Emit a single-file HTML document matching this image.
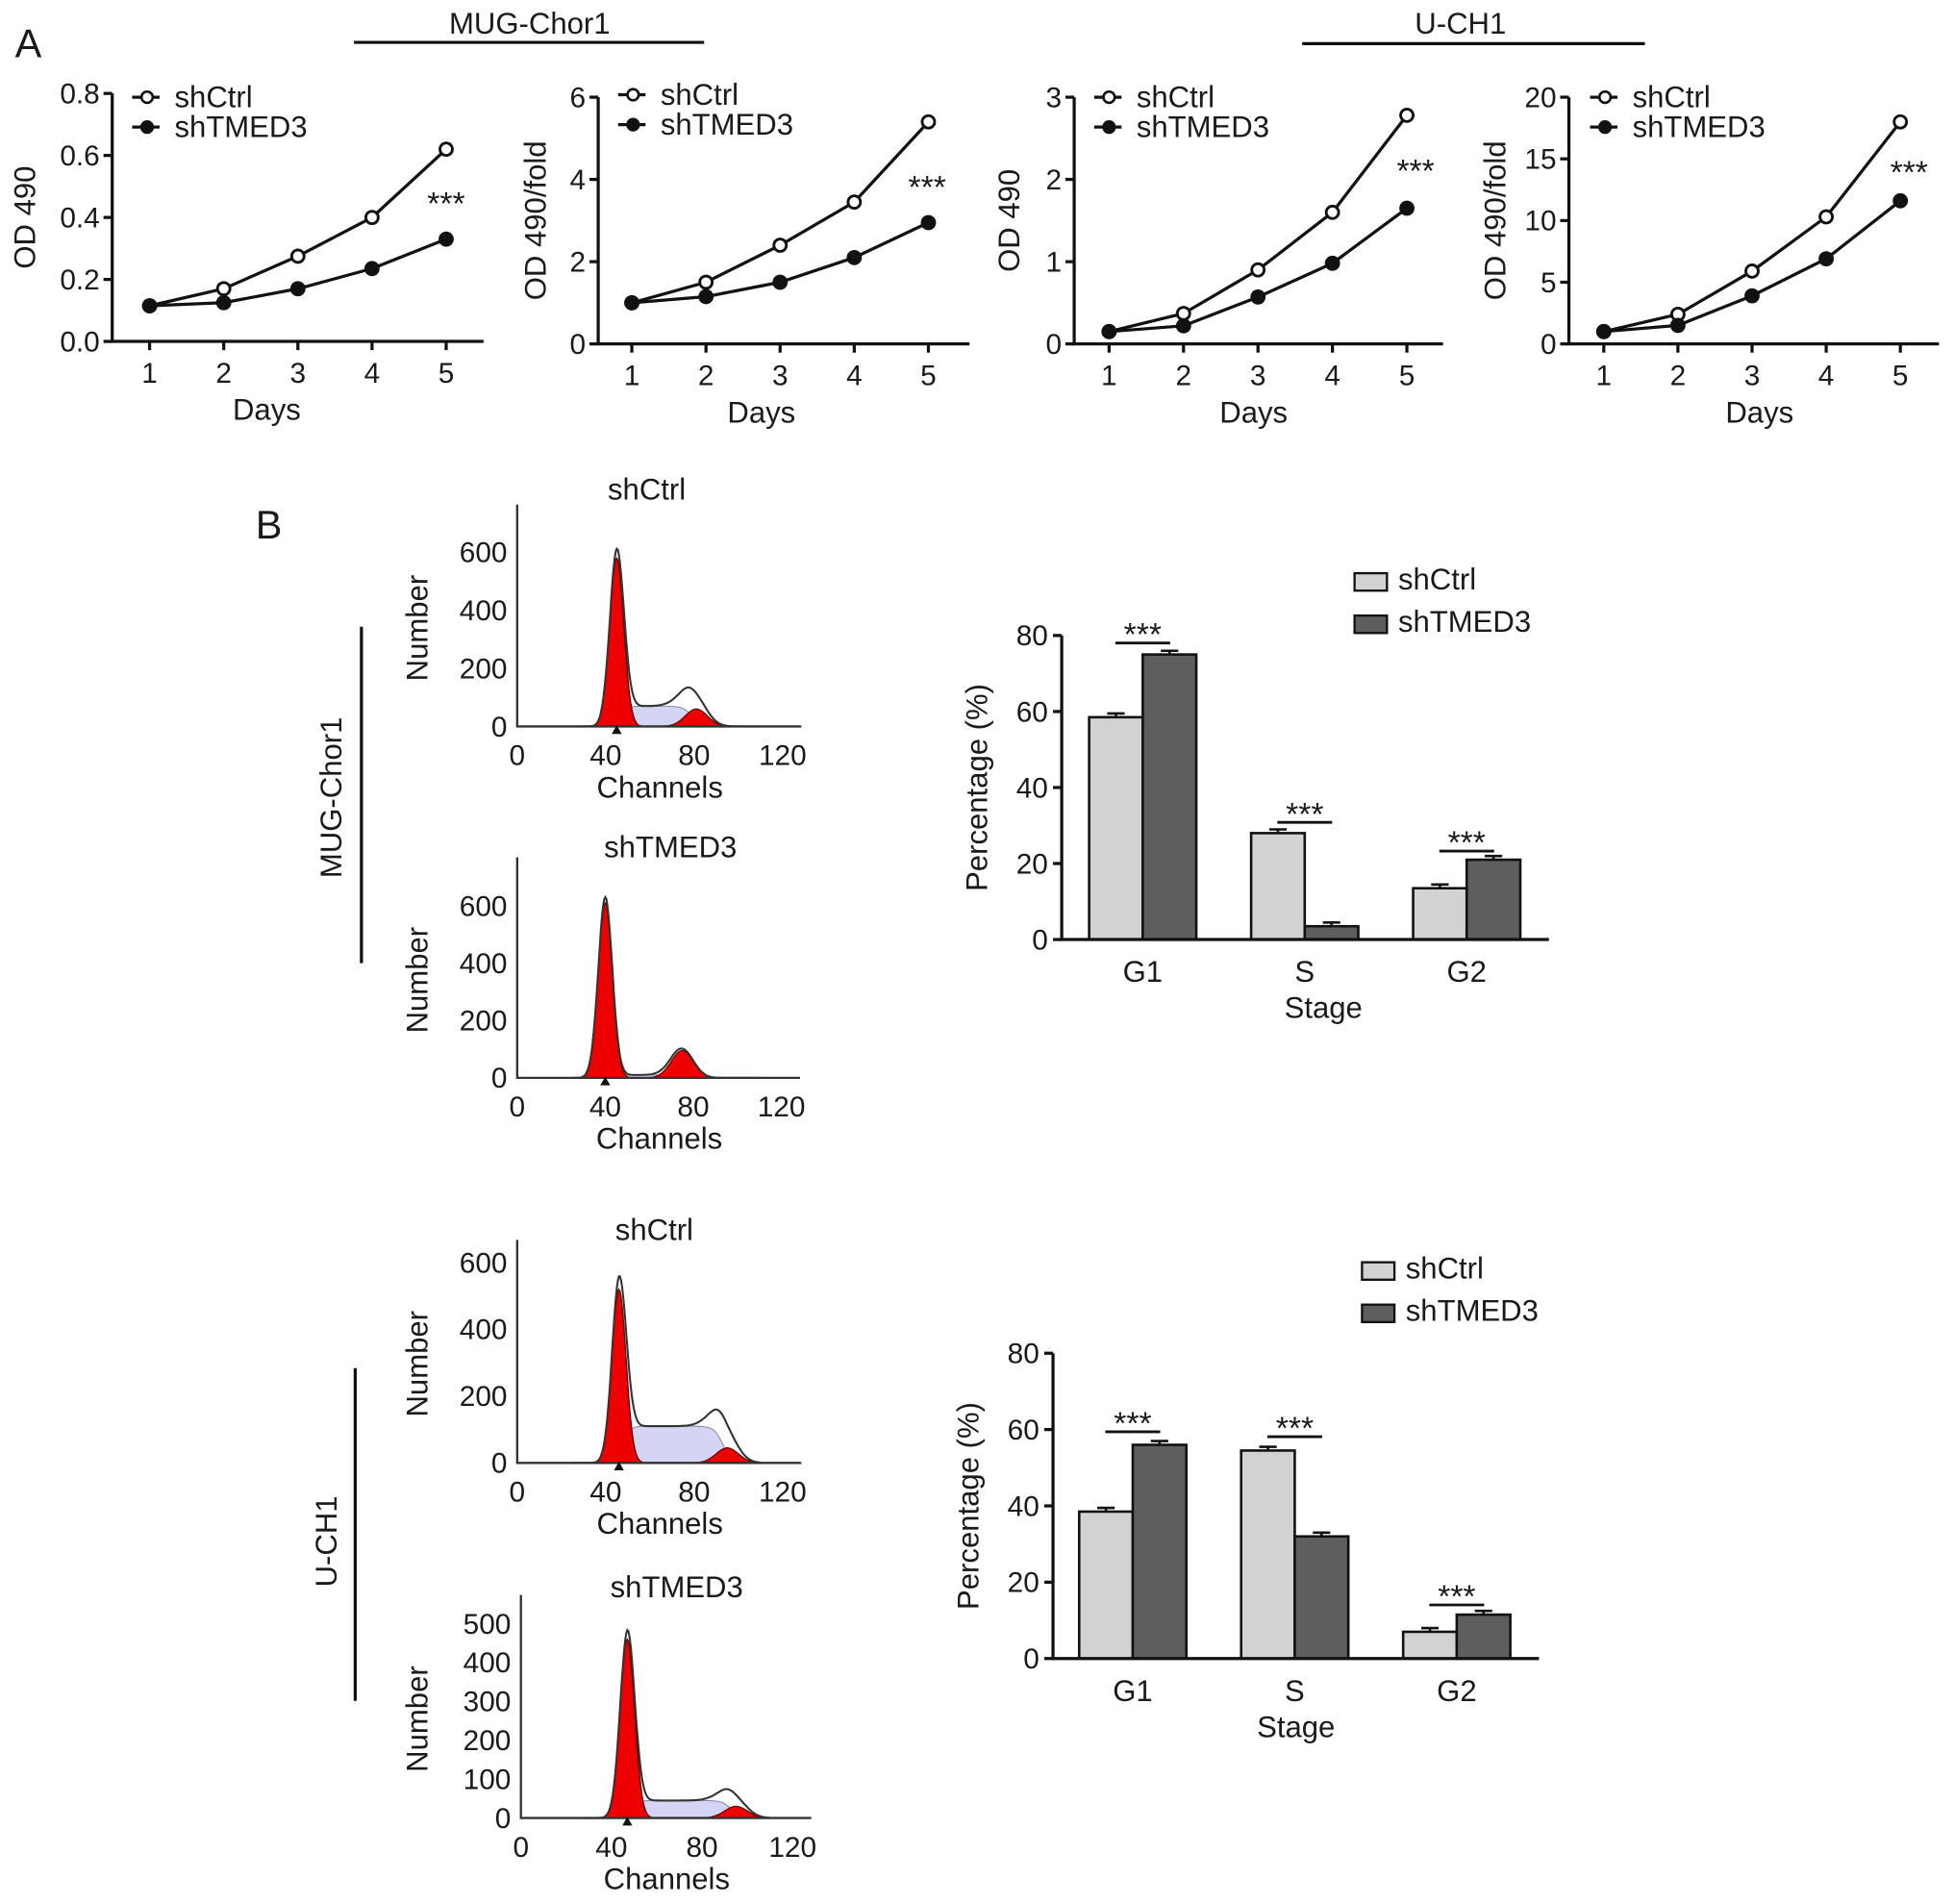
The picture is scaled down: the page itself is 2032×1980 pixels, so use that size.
<!DOCTYPE html>
<html><head><meta charset="utf-8"><style>
html,body{margin:0;padding:0;background:#fff}
svg{display:block}
text{font-family:"Liberation Sans",Arial,sans-serif;fill:#1a1a1a}
</style></head><body>
<svg id="fig" width="2032" height="1980" viewBox="0 0 1568 1528" xmlns="http://www.w3.org/2000/svg">
<text x="12" y="46" font-size="32">A</text>
<text x="425" y="27" font-size="24" text-anchor="middle">MUG-Chor1</text>
<line x1="284" y1="34" x2="565" y2="34" stroke="#111" stroke-width="2.5"/>
<text x="1172" y="27" font-size="24" text-anchor="middle">U-CH1</text>
<line x1="1045" y1="35" x2="1320" y2="35" stroke="#111" stroke-width="2.5"/>
<text x="205" y="432" font-size="32">B</text>
<line x1="290" y1="503" x2="290" y2="773" stroke="#111" stroke-width="2.5"/>
<text transform="translate(274,640) rotate(-90)" font-size="24" text-anchor="middle">MUG-Chor1</text>
<line x1="285" y1="1098" x2="285" y2="1365" stroke="#111" stroke-width="2.5"/>
<text transform="translate(270,1237) rotate(-90)" font-size="24" text-anchor="middle">U-CH1</text>
</svg>
<script>
// ---- Panel A line chart data ----
const days = [1, 2, 3, 4, 5];
const mugOdCtrl = [0.115, 0.17, 0.275, 0.40, 0.62];
const mugOdTmed = [0.115, 0.125, 0.17, 0.235, 0.33];
const mugFoldCtrl = [1, 1.5, 2.4, 3.45, 5.4];
const mugFoldTmed = [1, 1.15, 1.5, 2.1, 2.95];
const uchOdCtrl = [0.15, 0.37, 0.9, 1.6, 2.78];
const uchOdTmed = [0.15, 0.22, 0.57, 0.98, 1.65];
const uchFoldCtrl = [1, 2.4, 5.9, 10.3, 18];
const uchFoldTmed = [1, 1.5, 3.9, 6.9, 11.6];
const odTicks1 = ["0.0", "0.2", "0.4", "0.6", "0.8"];
const foldTicks1 = ["0", "2", "4", "6"];
const odTicks2 = ["0", "1", "2", "3"];
const foldTicks2 = ["0", "5", "10", "15", "20"];
// ---- Panel B bar chart data ----
const stages = ["G1", "S", "G2"];
const mugPctCtrl = [58.5, 28, 13.5];
const mugPctTmed = [75, 3.5, 21];
const uchPctCtrl = [38.5, 54.5, 7];
const uchPctTmed = [56, 32, 11.5];
const pctTicks = ["0", "20", "40", "60", "80"];
// ---- Histogram model data: [G1 channel, G1 height, G2 channel, G2 height, S level, outline extra bump] ----
const histMugCtrl = [45, 580, 81, 60, 70, 40];
const histMugTmed = [40, 610, 75, 95, 10, 5];
const histUchCtrl = [46, 520, 95, 45, 110, 45];
const histUchTmed = [47, 460, 95, 30, 45, 20];
const histXTicks = ["0", "40", "80", "120"];

const svg = document.getElementById('fig');
const NS = 'http://www.w3.org/2000/svg';
function mk(tag, attrs, parent) {
  const e = document.createElementNS(NS, tag);
  for (const k in attrs) e.setAttribute(k, attrs[k]);
  (parent || svg).appendChild(e);
  return e;
}
function txt(x, y, s, size, anchor, parent) {
  const t = mk('text', {x: x, y: y, 'font-size': size, 'text-anchor': anchor || 'middle'}, parent);
  t.textContent = s;
  return t;
}

function lineChart(name, ax, x0, x1, y0, y1, ymax, ticks, ctrl, tmed, ylabel, ylabX, starX, starY, legX, legY, daysX) {
  const g = mk('g', {});
  
  
  const xs = d => ax[0] + (d - 1) * (ax[1] - ax[0]) / 4;
  const ys = v => y0 - v / ymax * (y0 - y1);
  const axes = mk('path', {d: `M${x0},${y1} V${y0} H${x1}`, fill: 'none', stroke: '#111', 'stroke-width': 2.5}, g);
  
  
  ticks.forEach((t, i) => {
    const v = ymax * i / (ticks.length - 1);
    mk('line', {x1: x0 - 7, x2: x0, y1: ys(v), y2: ys(v), stroke: '#111', 'stroke-width': 2.5}, g);
    const l = txt(x0 - 10, ys(v) + 8, t, 23, 'end', g);
    
    
  });
  days.forEach(d => {
    mk('line', {x1: xs(d), x2: xs(d), y1: y0, y2: y0 + 7, stroke: '#111', 'stroke-width': 2.5}, g);
    const l = txt(xs(d), y0 + 33, String(d), 23, 'middle', g);
    
    
  });
  const xt = txt(daysX, y0 + 63, 'Days', 24, 'middle', g);
  
  
  const yt = mk('text', {transform: `translate(${ylabX},${(y0 + y1) / 2}) rotate(-90)`, 'font-size': 24, 'text-anchor': 'middle'}, g);
  yt.textContent = ylabel;
  
  
  [[ctrl, '#fff', 'shctrl'], [tmed, '#111', 'shtmed3']].forEach(([arr, fill, nm]) => {
    const p = mk('polyline', {points: arr.map((v, i) => xs(days[i]) + ',' + ys(v)).join(' '), fill: 'none', stroke: '#111', 'stroke-width': 2.5}, g);
    
    
    arr.forEach((v, i) => {
      const c = mk('circle', {cx: xs(days[i]), cy: ys(v), r: 5, fill: fill, stroke: '#111', 'stroke-width': 2.2}, g);
      
      
    });
  });
  const st = txt(starX, starY, '***', 26, 'middle', g);
  
  
  [['shCtrl', '#fff', 0], ['shTMED3', '#111', 24]].forEach(([lab, fill, dy]) => {
    const le = mk('g', {}, g);
    
    
    mk('line', {x1: legX - 12, x2: legX + 10, y1: legY + dy, y2: legY + dy, stroke: '#111', 'stroke-width': 2.5}, le);
    mk('circle', {cx: legX, cy: legY + dy, r: 4.5, fill: fill, stroke: '#111', 'stroke-width': 2}, le);
    txt(legX + 22, legY + dy + 8, lab, 24, 'start', le);
  });
}
lineChart('chart-mug-od490', [120, 358], 90, 388, 274, 75, 0.8, odTicks1, mugOdCtrl, mugOdTmed, 'OD 490', 28, 358, 172, 118, 78, 214);
lineChart('chart-mug-fold', [507, 745], 480, 778, 276, 78, 6, foldTicks1, mugFoldCtrl, mugFoldTmed, 'OD 490/fold', 438, 744, 159, 508, 76, 611);
lineChart('chart-uch-od490', [890, 1129], 862, 1158, 276, 78, 3, odTicks2, uchOdCtrl, uchOdTmed, 'OD 490', 818, 1136, 146, 890, 78, 1006);
lineChart('chart-uch-fold', [1287, 1525], 1259, 1556, 276, 78, 20, foldTicks2, uchFoldCtrl, uchFoldTmed, 'OD 490/fold', 1208, 1532, 147, 1288, 78, 1412);

function barChart(name, x0, x1, y0, y1, ctrl, tmed, groupX, sigY, legX, legY, stageX) {
  const g = mk('g', {});
  
  
  const ys = v => y0 - v / 80 * (y0 - y1);
  const bw = 43;
  pctTicks.forEach((t, i) => {
    const v = 20 * i;
    mk('line', {x1: x0 - 7, x2: x0, y1: ys(v), y2: ys(v), stroke: '#111', 'stroke-width': 2.5}, g);
    const l = txt(x0 - 11, ys(v) + 8, t, 23, 'end', g);
    
    
  });
  stages.forEach((s, i) => {
    const cx = groupX[i];
    [[ctrl[i], '#d2d2d2', cx - bw, 'shctrl'], [tmed[i], '#5e5e5e', cx, 'shtmed3']].forEach(([v, col, bx, nm]) => {
      const r = mk('rect', {x: bx, y: ys(v), width: bw, height: y0 - ys(v), fill: col, stroke: '#111', 'stroke-width': 2}, g);
      
      
      mk('path', {d: `M${bx + bw / 2},${ys(v)} v-3 M${bx + bw / 2 - 7},${ys(v) - 3} h14`, stroke: '#111', 'stroke-width': 2}, g);
    });
    const l = txt(cx, y0 + 34, s, 24, 'middle', g);
    
    
    const sl = mk('line', {x1: cx - 22, x2: cx + 22, y1: sigY[i], y2: sigY[i], stroke: '#111', 'stroke-width': 2.2}, g);
    
    
    const st = txt(cx, sigY[i] + 2, '***', 26, 'middle', g);
    
    
  });
  const axes = mk('path', {d: `M${x0},${y1} V${y0} H${x1}`, fill: 'none', stroke: '#111', 'stroke-width': 2.5}, g);
  
  
  const xt = txt(stageX, y0 + 63, 'Stage', 24, 'middle', g);
  
  
  const yt = mk('text', {transform: `translate(${x0 - 60},${(y0 + y1) / 2}) rotate(-90)`, 'font-size': 24, 'text-anchor': 'middle'}, g);
  yt.textContent = 'Percentage (%)';
  
  
  [['shCtrl', '#d2d2d2', 0], ['shTMED3', '#5e5e5e', 34]].forEach(([lab, col, dy]) => {
    const le = mk('g', {}, g);
    
    
    mk('rect', {x: legX, y: legY + dy, width: 26, height: 14, fill: col, stroke: '#111', 'stroke-width': 1.8}, le);
    txt(legX + 35, legY + dy + 13, lab, 24, 'start', le);
  });
}
barChart('bar-chart-mug', 852, 1243, 754, 510, mugPctCtrl, mugPctTmed, [917, 1047, 1177], [516, 660, 683], 1087, 460, 1062);
barChart('bar-chart-uch', 845, 1235, 1331, 1086, uchPctCtrl, uchPctTmed, [909, 1039, 1169], [1149, 1153, 1288], 1093, 1013, 1040);

function hist(name, title, p, x0, xEnd, y0, yTop, pxPerUnit, ticks, tickVals, titleX, titleY) {
  const g = mk('g', {});
  
  
  const xs = c => x0 + c * (xEnd - x0) / 120;
  const ys = v => y0 - v * pxPerUnit;
  const gauss = (c, m, h, sd) => h * Math.exp(-0.5 * ((c - m) / sd) ** 2);
  const sd1 = 3.2, sd2 = 5;
  const sig = (c, m, w) => 1 / (1 + Math.exp(-(c - m) / w));
  const S = c => p[4] * sig(c, p[0] + 2, 1.5) * (1 - sig(c, p[2] - 2, 2));
  const G1 = c => gauss(c, p[0], p[1], sd1);
  const G2 = c => gauss(c, p[2], p[3], sd2);
  const tot = c => G1(c) + S(c) + G2(c) + gauss(c, p[2] - 3, p[5], 6) + gauss(c, p[0], p[1] * 0.03, 2);
  const path = (f, a, b) => {
    let d = `M${xs(a)},${y0}`;
    for (let c = a; c <= b; c += 0.5) d += ` L${xs(c).toFixed(1)},${ys(f(c)).toFixed(1)}`;
    return d + ` L${xs(b)},${y0} Z`;
  };
  const sp = mk('path', {d: path(S, p[0] - 5, p[2] + 10), fill: '#d4d4f4', stroke: '#8888aa', 'stroke-width': 0.8}, g);
  
  
  const r1 = mk('path', {d: path(G1, p[0] - 12, p[0] + 12), fill: '#ee0000', stroke: '#600', 'stroke-width': 1}, g);
  
  
  const r2 = mk('path', {d: path(G2, p[2] - 16, p[2] + 16), fill: '#ee0000', stroke: '#600', 'stroke-width': 1}, g);
  
  
  let d = '';
  for (let c = 25; c <= 110; c += 0.5) d += (d ? ' L' : 'M') + xs(c).toFixed(1) + ',' + ys(tot(c)).toFixed(1);
  const o = mk('path', {d: d, fill: 'none', stroke: '#333', 'stroke-width': 1.6}, g);
  
  
  mk('path', {d: `M${x0},${yTop} V${y0} H${xEnd + 15}`, fill: 'none', stroke: '#333', 'stroke-width': 1.8}, g);
  ticks.forEach((t, i) => {
    const l = txt(x0 - 8, ys(tickVals[i]) + 8, t, 23, 'end', g);
    
    
  });
  histXTicks.forEach((t, i) => {
    const l = txt(xs(40 * i), y0 + 31, t, 23, 'middle', g);
    
    
  });
  mk('path', {d: `M${xs(p[0]) - 4},${y0 + 6} l4,-7 l4,7 Z`, fill: '#111'}, g);
  const xt = txt(xs(60) + 8, y0 + 57, 'Channels', 24, 'middle', g);
  
  
  const yt = mk('text', {transform: `translate(343,${(y0 + yTop) / 2 + 10}) rotate(-90)`, 'font-size': 24, 'text-anchor': 'middle'}, g);
  yt.textContent = 'Number';
  
  
  const tt = txt(titleX, titleY, title, 24, 'middle', g);
  
  
}
hist('histogram-mug-shctrl', 'shCtrl', histMugCtrl, 415, 628, 583, 405, 0.233, ["0", "200", "400", "600"], [0, 200, 400, 600], 519, 401);
hist('histogram-mug-shtmed3', 'shTMED3', histMugTmed, 415, 627, 865, 688, 0.23, ["0", "200", "400", "600"], [0, 200, 400, 600], 538, 688);
hist('histogram-uch-shctrl', 'shCtrl', histUchCtrl, 415, 628, 1174, 995, 0.268, ["0", "200", "400", "600"], [0, 200, 400, 600], 525, 995);
hist('histogram-uch-shtmed3', 'shTMED3', histUchTmed, 418, 636, 1459, 1280, 0.312, ["0", "100", "200", "300", "400", "500"], [0, 100, 200, 300, 400, 500], 543, 1282);
</script>
</body></html>
